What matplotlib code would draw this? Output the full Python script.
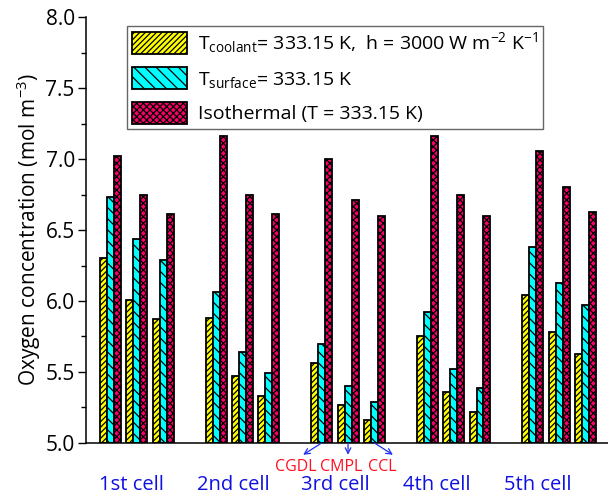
import matplotlib
matplotlib.use("Agg")
import matplotlib.pyplot as plt
import numpy as np
from matplotlib.patches import Patch
from matplotlib.transforms import blended_transform_factory

plt.rcParams["font.family"] = ["Open Sans", "DejaVu Sans"]
plt.rcParams["mathtext.fontset"] = "custom"
plt.rcParams["mathtext.rm"] = "Open Sans"
plt.rcParams["mathtext.it"] = "Open Sans"
plt.rcParams["mathtext.default"] = "regular"
plt.rcParams["hatch.linewidth"] = 0.9

# ============================================================
# Data
# ============================================================

cells = ["1st cell", "2nd cell", "3rd cell", "4th cell", "5th cell"]
layers = ["CGDL", "CMPL", "CCL"]

# rows: cells, columns: CGDL, CMPL, CCL
coolant = [
    [6.30, 6.01, 5.87],
    [5.88, 5.47, 5.33],
    [5.56, 5.27, 5.16],
    [5.75, 5.36, 5.22],
    [6.04, 5.78, 5.63],
]
surface = [
    [6.73, 6.44, 6.29],
    [6.06, 5.64, 5.49],
    [5.70, 5.40, 5.29],
    [5.92, 5.52, 5.39],
    [6.38, 6.13, 5.97],
]
isothermal = [
    [7.02, 6.75, 6.61],
    [7.16, 6.75, 6.61],
    [7.00, 6.71, 6.60],
    [7.16, 6.75, 6.60],
    [7.06, 6.80, 6.63],
]

series_labels = [
    r"T$_{coolant}$= 333.15 K,  h = 3000 W m$^{-2}$ K$^{-1}$",
    r"T$_{surface}$= 333.15 K",
    "Isothermal (T = 333.15 K)",
]
colors = ["#FFFF00", "#00FFFF", "#FA006A"]
hatches = ["//////", "\\\\\\", "xxxxx"]

# ============================================================
# Plot
# ============================================================

fig = plt.figure(figsize=(6.08, 4.97), dpi=100)
ax = fig.add_axes([0.1414, 0.1087, 0.8586, 0.857])

width = 0.265
base = 5.0

for k, data in enumerate([coolant, surface, isothermal]):
    vals = np.array(data)
    for i in range(len(cells)):
        pos = i * 4 + np.arange(len(layers)) + (k - 1) * width
        ax.bar(
            pos,
            vals[i] - base,
            bottom=base,
            width=width,
            color=colors[k],
            edgecolor="black",
            linewidth=1.3,
            hatch=hatches[k],
        )

ax.set_xlim(-0.93, 18.85)
ax.set_ylim(5.0, 8.0)
ax.set_yticks(np.arange(5.0, 8.01, 0.5))
ax.set_yticks(np.arange(5.0, 8.01, 0.25), minor=True)
ax.yaxis.set_major_formatter(matplotlib.ticker.FormatStrFormatter("%.1f"))
ax.tick_params(axis="y", which="major", length=6, width=1, labelsize=15, direction="out", pad=2)
ax.tick_params(axis="y", which="minor", length=3.5, width=1, direction="out")
ax.set_xticks([])
for side in ["top", "right"]:
    ax.spines[side].set_visible(False)
ax.spines["left"].set_linewidth(1.1)
ax.spines["bottom"].set_linewidth(1.1)

ax.set_ylabel(r"Oxygen concentration (mol m$^{-3}$)", fontsize=15, labelpad=2)

trans = blended_transform_factory(ax.transData, fig.transFigure)
for i, name in enumerate(cells):
    ax.text(i * 3.85 + 0.8, 0.025, name, transform=trans, color="#1010E0",
            fontsize=14.5, ha="center", va="center")

# layer labels under the 3rd cell
label_x = [7.0, 8.72, 10.28]
for j, name in enumerate(layers):
    ax.text(label_x[j], 0.061, name, transform=trans, color="#FF1020",
            fontsize=11.5, ha="center", va="center")
    ax.annotate(
        "",
        xy=(8 + j + (j - 1) * 0.7, 0.085),
        xycoords=trans,
        xytext=(8 + j, base),
        textcoords="data",
        arrowprops=dict(arrowstyle="->", color="#2030F0", lw=0.9,
                        shrinkA=0, shrinkB=0),
        annotation_clip=False,
    )

handles = [
    Patch(facecolor=colors[k], edgecolor="black", hatch=hatches[k], linewidth=1.3)
    for k in range(3)
]
leg = ax.legend(
    handles,
    series_labels,
    loc="upper left",
    bbox_to_anchor=(0.079, 0.98),
    fontsize=14,
    frameon=True,
    fancybox=False,
    edgecolor="#404040",
    handlelength=2.8,
    handleheight=1.35,
    labelspacing=0.62,
    borderpad=0.25,
    borderaxespad=0.0,
    handletextpad=0.6,
)
leg.get_frame().set_linewidth(1.0)

fig.savefig("out.png", dpi=100)
